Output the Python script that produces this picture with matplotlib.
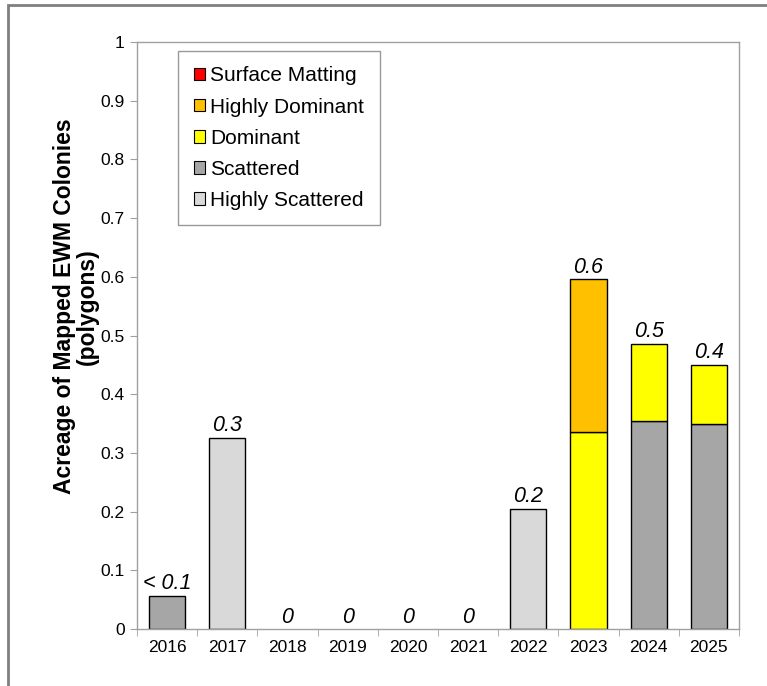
import numpy as np
import matplotlib.pyplot as plt
from matplotlib.patches import Rectangle

plt.rcParams['font.family'] = ['Liberation Sans', 'DejaVu Sans']

years = ["2016", "2017", "2018", "2019", "2020", "2021", "2022", "2023", "2024", "2025"]
highly_scattered = [0, 0.326, 0, 0, 0, 0, 0.205, 0, 0, 0]
scattered = [0.057, 0, 0, 0, 0, 0, 0, 0, 0.355, 0.350]
dominant = [0, 0, 0, 0, 0, 0, 0, 0.335, 0.131, 0.100]
highly_dominant = [0, 0, 0, 0, 0, 0, 0, 0.261, 0, 0]
surface_matting = [0, 0, 0, 0, 0, 0, 0, 0, 0, 0]
bar_labels = ["< 0.1", "0.3", "0", "0", "0", "0", "0.2", "0.6", "0.5", "0.4"]

series = [
    ("Highly Scattered", highly_scattered, "#D9D9D9"),
    ("Scattered", scattered, "#A6A6A6"),
    ("Dominant", dominant, "#FFFF00"),
    ("Highly Dominant", highly_dominant, "#FFC000"),
    ("Surface Matting", surface_matting, "#FF0000"),
]

fig = plt.figure(figsize=(7.67, 6.86), dpi=100)
ax = fig.add_axes([137 / 767, 57 / 686, 602 / 767, 587 / 686])

x = np.arange(len(years))
bottom = np.zeros(len(years))
handles = []
for name, vals, col in series:
    vals = np.array(vals)
    mask = vals > 0
    ax.bar(x[mask], vals[mask], 0.6, bottom=bottom[mask], color=col,
           edgecolor="black", linewidth=1, zorder=2)
    handles.append(Rectangle((0, 0), 1, 1, facecolor=col, edgecolor="black", linewidth=0.8, label=name))
    bottom += vals

for xi, top, lab in zip(x, bottom, bar_labels):
    ax.annotate(lab, (xi, top), xytext=(0, 1), textcoords="offset points",
                ha="center", va="bottom", fontsize=15.5, style="italic")

ax.set_xlim(-0.5, len(years) - 0.5)
ax.set_ylim(0, 1)
ax.set_yticks(np.arange(0, 1.01, 0.1))
ax.set_yticklabels(["0"] + [f"{v:.1f}" for v in np.arange(0.1, 0.95, 0.1)] + ["1"])
ax.set_xticks(x)
ax.set_xticklabels(years)
ax.set_xticks(np.arange(-0.5, len(years), 1), minor=True)
ax.tick_params(axis="x", which="major", length=0, labelsize=12.5, pad=8)
ax.tick_params(axis="x", which="minor", length=5, color="#A0A0A0")
ax.tick_params(axis="y", length=5, color="#A0A0A0", labelsize=12.5, pad=4)
for s in ax.spines.values():
    s.set_color("#A0A0A0")
    s.set_linewidth(1)

ax.set_ylabel("Acreage of Mapped EWM Colonies\n(polygons)", fontsize=16.5, fontweight="bold",
              linespacing=0.95)
ax.yaxis.set_label_coords(-0.064, 0.55)

leg = ax.legend(handles=handles[::-1], loc="upper left", bbox_to_anchor=(0.068, 0.985),
                fontsize=15, frameon=True, fancybox=False, edgecolor="#808080",
                handlelength=0.55, handleheight=0.55, handletextpad=0.25,
                labelspacing=0.58, borderpad=0.75, borderaxespad=0)
leg.get_frame().set_linewidth(1)

fig.patches.append(Rectangle((8 / 767, -0.1), 2, (681 / 686) + 0.1, transform=fig.transFigure,
                             fill=False, edgecolor="#7F7F7F", linewidth=2))

fig.savefig("out.png", dpi=100)
